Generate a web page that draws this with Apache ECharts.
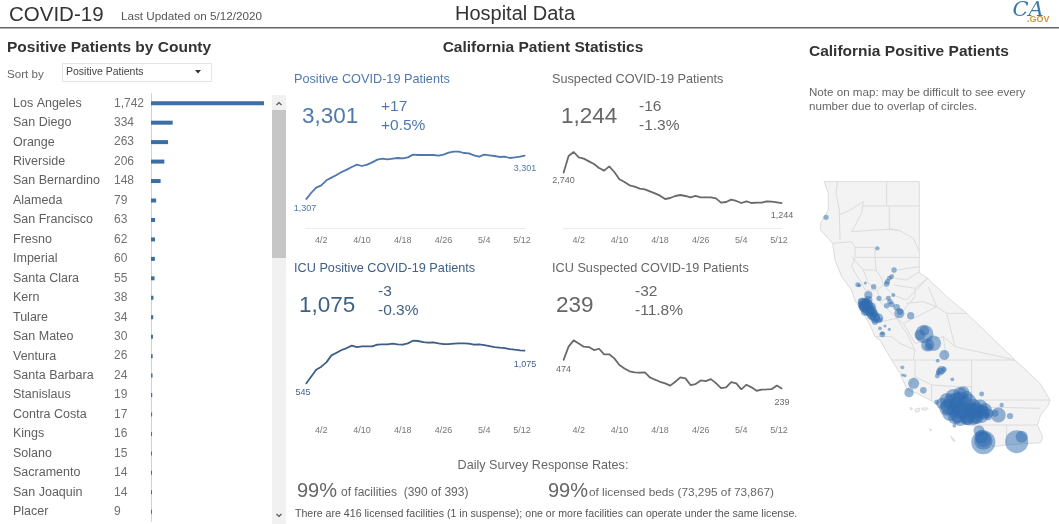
<!DOCTYPE html>
<html>
<head>
<meta charset="utf-8">
<title>Hospital Data</title>
<script src="https://cdn.jsdelivr.net/npm/echarts@6/dist/echarts.min.js"></script>
<style>
html, body { margin: 0; padding: 0; background: #fff; }
#main { width: 1059px; height: 524px; }
</style>
</head>
<body>
<div id="main"></div>
<script>
var counties = ['Los Angeles', 'San Diego', 'Orange', 'Riverside', 'San Bernardino', 'Alameda', 'San Francisco', 'Fresno', 'Imperial', 'Santa Clara', 'Kern', 'Tulare', 'San Mateo', 'Ventura', 'Santa Barbara', 'Stanislaus', 'Contra Costa', 'Kings', 'Solano', 'Sacramento', 'San Joaquin', 'Placer'];
var countyPatients = [1742, 334, 263, 206, 148, 79, 63, 62, 60, 55, 38, 34, 30, 26, 24, 19, 17, 16, 15, 14, 14, 9];

var days = ['3/30', '3/31', '4/1', '4/2', '4/3', '4/4', '4/5', '4/6', '4/7', '4/8', '4/9', '4/10', '4/11', '4/12', '4/13', '4/14', '4/15', '4/16', '4/17', '4/18', '4/19', '4/20', '4/21', '4/22', '4/23', '4/24', '4/25', '4/26', '4/27', '4/28', '4/29', '4/30', '5/1', '5/2', '5/3', '5/4', '5/5', '5/6', '5/7', '5/8', '5/9', '5/10', '5/11', '5/12'];
var dayTicks = ['4/2', '4/10', '4/18', '4/26', '5/4', '5/12'];

var positive = [1307, 1596, 1839, 1946, 2174, 2295, 2417, 2554, 2660, 2782, 2888, 2827, 2888, 2994, 3116, 3162, 3131, 3162, 3192, 3177, 3222, 3344, 3329, 3329, 3329, 3329, 3298, 3344, 3435, 3481, 3481, 3420, 3405, 3314, 3253, 3344, 3314, 3283, 3238, 3253, 3192, 3222, 3253, 3301];
var suspected = [2740, 3586, 3785, 3519, 3453, 3320, 3187, 2988, 2855, 3071, 2789, 2424, 2291, 2125, 2058, 1959, 1926, 1826, 1726, 1610, 1444, 1494, 1594, 1643, 1594, 1527, 1594, 1527, 1527, 1527, 1477, 1262, 1295, 1411, 1345, 1245, 1328, 1245, 1262, 1262, 1328, 1311, 1278, 1244];
var icuPositive = [545, 658, 770, 819, 888, 1000, 1043, 1086, 1118, 1156, 1134, 1145, 1145, 1145, 1172, 1177, 1177, 1188, 1177, 1172, 1193, 1236, 1231, 1214, 1204, 1209, 1193, 1182, 1182, 1188, 1193, 1193, 1188, 1172, 1177, 1166, 1150, 1134, 1124, 1118, 1102, 1091, 1081, 1075];
var icuSuspected = [474, 585, 637, 612, 585, 582, 557, 568, 522, 522, 489, 434, 406, 382, 373, 371, 373, 332, 313, 296, 283, 264, 296, 332, 324, 269, 277, 307, 302, 318, 285, 244, 250, 294, 283, 233, 272, 250, 222, 231, 233, 236, 266, 239];

// hospitals on the map, in map units (same units as the outline below)
// groups: north, sacramento, bay area, valley, central coast, los angeles, inland, san diego, imperial, then the dense bay and LA ones
var hospitalX = [78, 232,
    260, 262, 268, 275, 282,
    173, 178, 196, 221, 205, 185, 195, 205, 190, 200, 215, 210, 222, 225, 235, 225, 215, 200, 240, 237, 187, 205, 195, 215,
    265, 270, 260, 275, 280, 290, 298, 300, 332, 247, 247, 255, 268, 240,
    373, 373, 360, 383, 400, 385, 433, 413, 425, 420, 432, 412, 415, 457,
    307, 308, 315, 341, 327, 370,
    480, 460, 440, 425, 500, 445, 470, 495, 520, 540, 555, 565, 450, 475, 500, 525, 545, 565, 480, 505, 530, 460, 510, 410, 545, 463,
    595, 605, 630, 585,
    550, 550, 550, 545, 537,
    650, 665,
    195, 205, 215, 190, 200, 225,
    455, 480, 505, 530, 550, 490, 465, 440, 480, 520, 500, 520, 545, 470, 490];
var hospitalY = [142, 235,
    342, 335, 325, 320, 300,
    344, 346, 339, 350, 375, 395, 400, 405, 410, 415, 410, 425, 430, 440, 445, 455, 420, 395, 450, 385, 405, 390, 425, 438,
    385, 395, 407, 403, 375, 412, 430, 425, 437, 493, 490, 468, 478, 475,
    492, 482, 495, 525, 520, 530, 555, 572, 600, 605, 598, 618, 608, 628,
    592, 615, 617, 640, 668, 661,
    672, 680, 690, 700, 680, 710, 705, 705, 710, 712, 720, 730, 730, 735, 735, 735, 738, 740, 745, 745, 745, 720, 720, 697, 672, 767,
    735, 705, 738, 730,
    817, 812, 808, 800, 782,
    815, 800,
    410, 420, 430, 400, 405, 445,
    695, 690, 695, 722, 728, 720, 742, 715, 720, 722, 748, 748, 725, 690, 667];
var hospitalPatients = [6, 4,
    6, 6, 5, 5, 6,
    5, 3, 2, 6, 14, 12, 20, 20, 20, 20, 14, 20, 14, 20, 20, 8, 20, 12, 5, 6, 14, 14, 14, 14,
    5, 6, 6, 7, 3, 9, 21, 8, 11, 7, 3, 2, 2, 3,
    69, 20, 25, 36, 50, 12, 21, 3, 14, 12, 6, 5, 5, 3,
    3, 2, 2, 25, 18, 9,
    40, 50, 40, 25, 30, 50, 60, 60, 50, 50, 40, 20, 50, 60, 60, 60, 40, 10, 50, 40, 30, 40, 40, 5, 5, 3,
    46, 4, 8, 10,
    119, 70, 50, 40, 25,
    110, 30,
    30, 30, 25, 25, 30, 20,
    55, 55, 55, 55, 40, 55, 40, 45, 55, 55, 30, 30, 40, 50, 30];

var stateOutline = [[72, 35], [358, 35], [358, 308], [383, 325], [440, 380], [500, 430], [645, 570], [720, 640], [750, 690], [745, 705], [722, 735], [712, 765], [728, 800], [722, 818], [620, 825], [578, 830], [565, 800], [535, 770], [505, 765], [460, 745], [430, 720], [400, 695], [350, 670], [322, 660], [300, 610], [275, 570], [240, 510], [225, 500], [210, 465], [190, 430], [165, 392], [155, 360], [125, 320], [105, 270], [98, 220], [62, 180], [62, 160], [85, 120], [85, 70]];
var islands = [
    [[330, 712], [338, 716], [332, 720]],
    [[345, 718], [358, 714], [358, 724], [347, 726]],
    [[365, 714], [385, 714], [380, 720], [367, 720]],
    [[388, 776], [396, 781], [392, 783]],
    [[452, 798], [466, 812], [460, 814]]
];
var countyLines = [
    [[112, 35], [108, 70], [118, 120], [120, 210]],
    [[260, 35], [260, 108]],
    [[118, 135], [150, 120], [190, 95], [185, 130], [155, 185]],
    [[185, 108], [260, 108], [358, 108]],
    [[268, 108], [268, 175], [300, 182]],
    [[155, 185], [262, 178], [300, 182], [340, 205], [358, 245]],
    [[98, 220], [155, 215], [165, 232], [165, 262], [155, 290], [185, 340], [195, 360]],
    [[165, 232], [225, 232], [225, 262], [165, 262]],
    [[225, 262], [358, 262]],
    [[225, 262], [228, 300], [245, 325], [250, 345]],
    [[155, 260], [190, 300], [225, 300], [228, 300]],
    [[190, 300], [205, 340], [232, 360], [250, 345], [290, 300], [358, 290]],
    [[285, 325], [320, 330], [358, 305]],
    [[250, 345], [280, 375], [320, 390], [383, 325]],
    [[282, 345], [345, 355], [383, 325]],
    [[195, 360], [232, 360], [240, 395], [280, 375]],
    [[240, 395], [290, 445], [345, 380], [345, 355]],
    [[320, 400], [370, 395], [410, 410]],
    [[290, 445], [310, 460], [410, 410], [385, 350]],
    [[410, 410], [440, 430], [500, 430]],
    [[440, 430], [465, 530], [645, 570]],
    [[310, 460], [345, 520], [430, 500], [465, 530]],
    [[245, 455], [290, 445], [320, 490], [345, 540], [340, 570]],
    [[225, 500], [275, 500], [300, 520], [345, 540]],
    [[275, 570], [515, 570], [645, 570]],
    [[430, 500], [440, 570]],
    [[345, 570], [345, 620], [395, 645], [470, 650], [515, 650]],
    [[395, 645], [395, 688]],
    [[515, 570], [515, 690], [750, 690]],
    [[515, 650], [515, 690]],
    [[520, 712], [600, 712], [720, 715]],
    [[535, 765], [620, 765], [712, 765]],
    [[620, 765], [620, 825]],
    [[322, 660], [345, 620]]
];

var features = [{
    type: 'Feature', properties: { name: 'California' },
    geometry: { type: 'Polygon', coordinates: [stateOutline.concat([stateOutline[0]])] }
}];
islands.forEach(function(ring, i) {
    features.push({
        type: 'Feature', properties: { name: 'island' + i },
        geometry: { type: 'Polygon', coordinates: [ring.concat([ring[0]])] }
    });
});
features.push({
    type: 'Feature', properties: { name: 'counties' },
    geometry: { type: 'MultiLineString', coordinates: countyLines }
});
echarts.registerMap('california', { type: 'FeatureCollection', features: features });

var FONT = '"Liberation Sans", Arial, sans-serif';
var BLUE = '#4f79ad';
var NAVY = '#3f5f86';
var GRAY = '#666666';

function text(x, y, str, size, color, extra) {
    var style = {
        text: str, x: x, y: y, fontSize: size, fill: color, fontFamily: FONT,
        textVerticalAlign: 'middle', textAlign: 'left'
    };
    for (var k in (extra || {})) style[k] = extra[k];
    return { type: 'text', silent: true, style: style };
}

// end point labels sit under the line
function withEnds(values, color, firstGap, lastGap, firstDx, lastDx) {
    return values.map(function(v, i) {
        if (i !== 0 && i !== values.length - 1) return v;
        var first = i === 0;
        return {
            value: v,
            label: {
                show: true, position: 'bottom', color: color, fontSize: 9,
                distance: first ? firstGap : lastGap,
                offset: [first ? firstDx : lastDx, 0],
                formatter: function(p) { return echarts.format.addCommas(p.value); }
            }
        };
    });
}

var lineCharts = [
    { left: 306, top: 148, width: 219, max: 3648, values: positive, color: BLUE, line: true, gaps: [4, 8, -1, 0] },
    { left: 563.5, top: 148, width: 218.5, max: 3984, values: suspected, color: '#6a6a6a', line: true, gaps: [3, 7, 0, 0] },
    { left: 306, top: 337.7, width: 219, max: 1284, values: icuPositive, color: NAVY, line: false, gaps: [4, 9, -3, 0] },
    { left: 563.5, top: 337.7, width: 218.5, max: 659, values: icuSuspected, color: '#6a6a6a', line: false, gaps: [4, 9, 0, 0] }
];

var grids = [{ left: 151, top: 93.5, width: 113, height: 428 }];
var xAxes = [{
    gridIndex: 0, type: 'value', min: 0, max: 1742, show: false
}];
var yAxes = [{
    gridIndex: 0, type: 'category', inverse: true, data: counties,
    axisTick: { show: false },
    axisLine: { show: true, lineStyle: { color: '#c9d3df', width: 1 } },
    axisLabel: {
        align: 'left', margin: 138, interval: 0,
        formatter: function(name, i) {
            return '{n|' + name + '}{v|' + echarts.format.addCommas(countyPatients[i]) + '}';
        },
        rich: {
            n: { width: 101, fontSize: 12.5, color: '#5f5f5f', fontFamily: FONT },
            v: { fontSize: 12, color: '#707070', fontFamily: FONT }
        }
    }
}];
var series = [{
    type: 'bar', xAxisIndex: 0, yAxisIndex: 0, data: countyPatients,
    barWidth: 4, barMinHeight: 1, itemStyle: { color: '#3b6ea5' }, silent: true
}];

lineCharts.forEach(function(c, i) {
    var idx = i + 1;
    grids.push({ left: c.left, top: c.top, width: c.width, height: 80 });
    xAxes.push({
        gridIndex: idx, type: 'category', data: days, boundaryGap: false,
        axisTick: { show: false },
        axisLine: { show: c.line, lineStyle: { color: '#ececec', width: 1 } },
        axisLabel: {
            color: '#777777', fontSize: 9, fontFamily: FONT, margin: 8,
            interval: function(index, label) { return dayTicks.indexOf(label) >= 0; },
            // the last date sits a little left of its point
            formatter: function(label) { return label === '5/12' ? '{last|' + label + '}' : label; },
            rich: { last: { color: '#777777', fontSize: 9, fontFamily: FONT, padding: [0, 6, 0, 0] } }
        }
    });
    yAxes.push({ gridIndex: idx, type: 'value', min: 0, max: c.max, show: false, splitLine: { show: false } });
    series.push({
        type: 'line', xAxisIndex: idx, yAxisIndex: idx,
        data: withEnds(c.values, c.color, c.gaps[0], c.gaps[1], c.gaps[2], c.gaps[3]),
        showSymbol: true, showAllSymbol: true, symbol: 'circle', symbolSize: 1, silent: true,
        itemStyle: { color: c.color },
        lineStyle: { color: c.color, width: 1.8 }
    });
});

series.push({
    type: 'scatter', coordinateSystem: 'geo', geoIndex: 0, silent: true,
    data: hospitalX.map(function(x, i) { return [x, hospitalY[i], hospitalPatients[i]]; }),
    symbolSize: function(d) { return 2.2 * Math.sqrt(d[2]); },
    itemStyle: { color: '#2f6cb0', opacity: 0.5 }
});

var graphics = [
    text(9, 15, 'COVID-19', 20.5, '#333333'),
    text(121, 17, 'Last Updated on 5/12/2020', 11.7, '#555555'),
    text(515, 14, 'Hospital Data', 20, '#333333', { textAlign: 'center' }),
    { type: 'rect', silent: true, shape: { x: 0, y: 27, width: 1059, height: 1.5 }, style: { fill: '#666666' } },

    // logo
    text(1028, 11, 'CA', 21, '#3b7aa8', { fontStyle: 'italic', fontFamily: '"DejaVu Serif", serif', textAlign: 'center' }),
    text(1027, 20, '.GOV', 9, '#c9973f', { fontWeight: 'bold' }),

    text(7, 48, 'Positive Patients by County', 15.5, '#333333', { fontWeight: 'bold' }),
    text(7, 75, 'Sort by', 11.6, '#666666'),
    { type: 'rect', silent: true, shape: { x: 62.5, y: 63.5, width: 149, height: 18 }, style: { fill: '#fff', stroke: '#e4e4e4' } },
    text(66, 72, 'Positive Patients', 10.5, '#444444'),
    { type: 'polygon', silent: true, shape: { points: [[195, 70], [201, 70], [198, 73.5]] }, style: { fill: '#333333' } },

    text(543, 48, 'California Patient Statistics', 15.5, '#333333', { fontWeight: 'bold', textAlign: 'center' }),
    text(809, 52, 'California Positive Patients', 15.5, '#333333', { fontWeight: 'bold' }),
    text(809, 93, 'Note on map: may be difficult to see every', 11.6, '#666666'),
    text(809, 107, 'number due to overlap of circles.', 11.6, '#666666'),

    // scrollbar
    { type: 'rect', silent: true, shape: { x: 272, y: 95, width: 14, height: 429 }, style: { fill: '#f1f1f1' } },
    { type: 'rect', silent: true, shape: { x: 272, y: 110, width: 14, height: 148 }, style: { fill: '#c6c6c6' } },
    { type: 'polyline', silent: true, shape: { points: [[276.5, 105], [279, 102.5], [281.5, 105]] }, style: { stroke: '#555555', fill: null, lineWidth: 1.2 } },
    { type: 'polyline', silent: true, shape: { points: [[276.5, 514], [279, 516.5], [281.5, 514]] }, style: { stroke: '#555555', fill: null, lineWidth: 1.2 } },

    text(294, 79, 'Positive COVID-19 Patients', 12.7, BLUE),
    text(302, 117, '3,301', 22.5, BLUE),
    text(381, 107, '+17', 15.5, BLUE),
    text(381, 126, '+0.5%', 15.5, BLUE),

    text(552, 79, 'Suspected COVID-19 Patients', 12.7, GRAY),
    text(561, 117, '1,244', 22.5, GRAY),
    text(639, 107, '-16', 15.5, GRAY),
    text(639, 126, '-1.3%', 15.5, GRAY),

    text(294, 268, 'ICU Positive COVID-19 Patients', 12.7, NAVY),
    text(299, 306, '1,075', 22.5, NAVY),
    text(378, 292, '-3', 15.5, NAVY),
    text(378, 311, '-0.3%', 15.5, NAVY),

    text(552, 268, 'ICU Suspected COVID-19 Patients', 12.7, GRAY),
    text(556, 306, '239', 22.5, GRAY),
    text(635, 292, '-32', 15.5, GRAY),
    text(635, 311, '-11.8%', 15.5, GRAY),

    text(543, 466, 'Daily Survey Response Rates:', 12.6, '#666666', { textAlign: 'center' }),
    text(297, 491, '99%', 20, '#666666'),
    text(341, 493, 'of facilities  (390 of 393)', 12, '#666666'),
    text(548, 491, '99%', 20, '#666666'),
    text(589, 493, 'of licensed beds (73,295 of 73,867)', 11.8, '#666666'),
    text(295, 514, 'There are 416 licensed facilities (1 in suspense); one or more facilities can operate under the same license.', 10.6, '#555555')
];

var chart = echarts.init(document.getElementById('main'), null, { renderer: 'canvas' });
chart.setOption({
    animation: false,
    backgroundColor: '#ffffff',
    textStyle: { fontFamily: FONT },
    tooltip: { show: false },
    grid: grids,
    xAxis: xAxes,
    yAxis: yAxes,
    geo: {
        map: 'california', silent: true, roam: false,
        projection: {
            project: function(p) { return [p[0], p[1]]; },
            unproject: function(p) { return [p[0], p[1]]; }
        },
        left: 800 + 62 / 3, top: 170 + 35 / 3, width: 688 / 3, height: 795 / 3,
        label: { show: false },
        itemStyle: { areaColor: '#f3f3f3', borderColor: '#dcdcdc', borderWidth: 1 },
        emphasis: { disabled: true }
    },
    series: series,
    graphic: { elements: graphics }
});
</script>
</body>
</html>
